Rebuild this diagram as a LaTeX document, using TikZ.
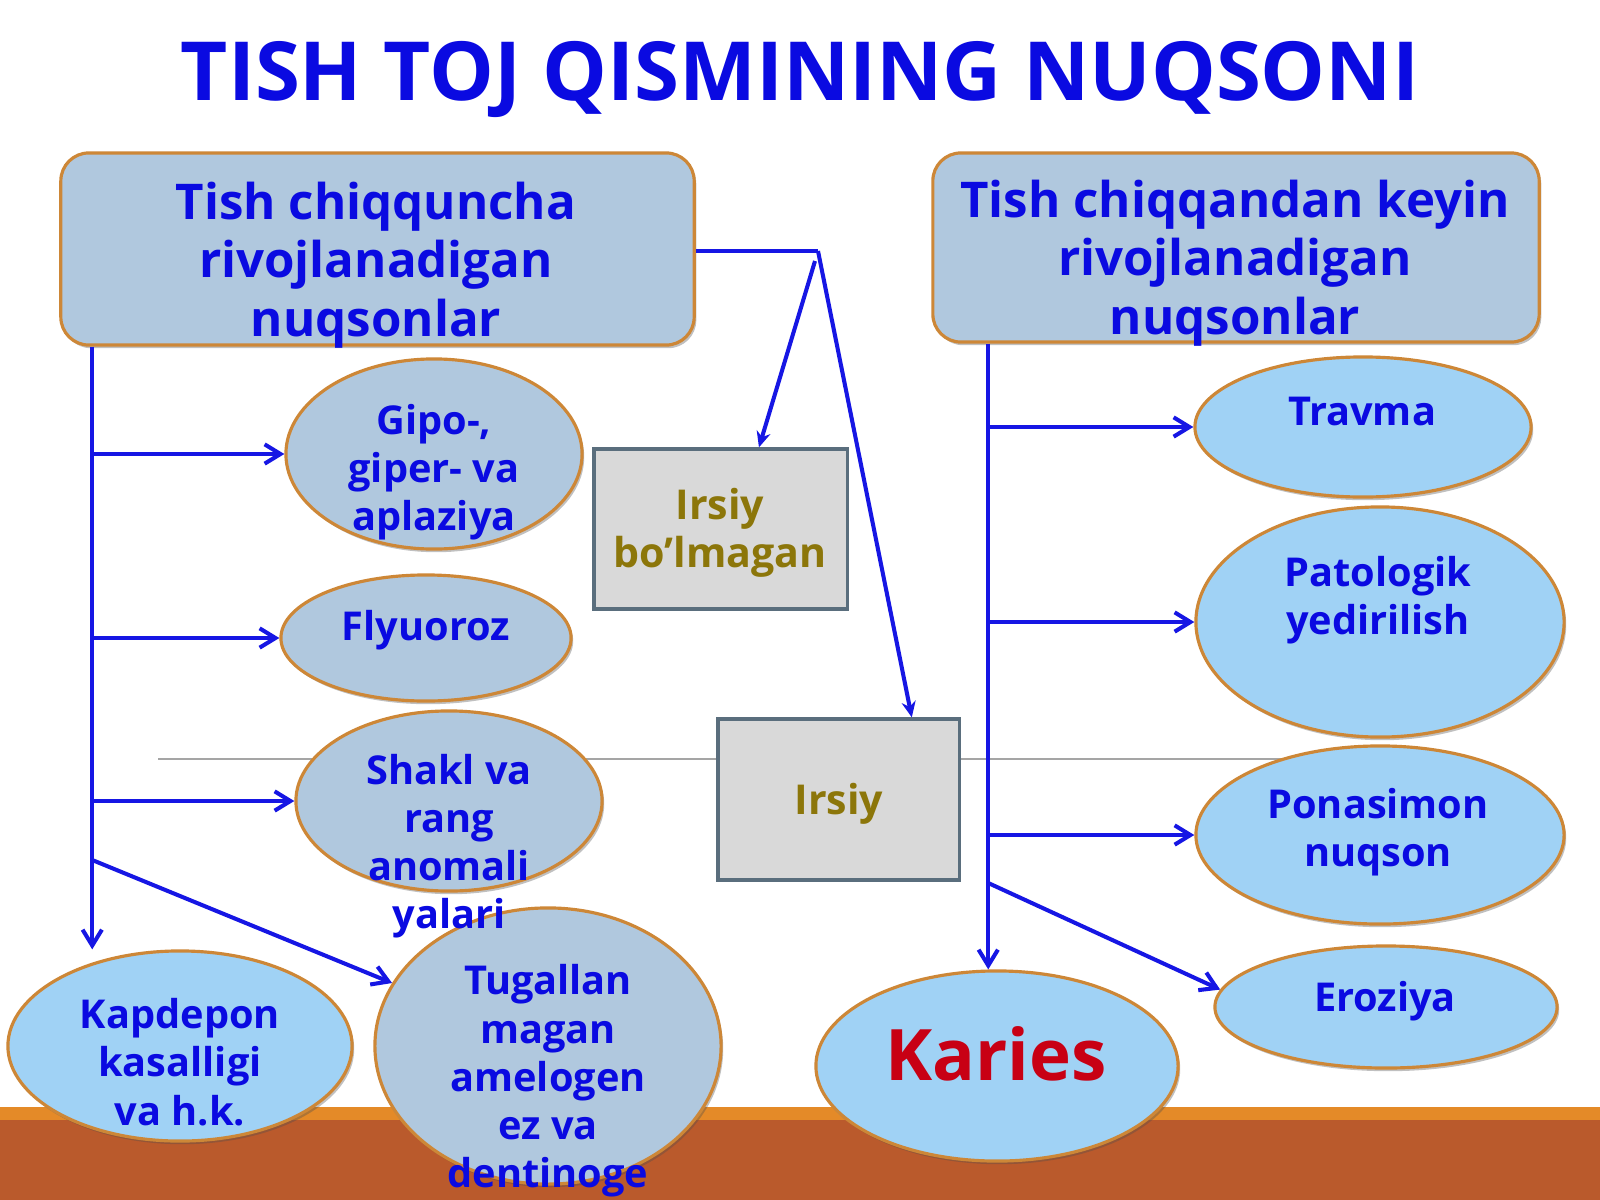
\documentclass[tikz,border=0pt]{standalone}
\usepackage{fontspec}
\setmainfont{Open Sans}
\usetikzlibrary{shapes.geometric,arrows.meta,shadows,calc}
\definecolor{tblue}{RGB}{10,10,225}
\definecolor{lblue}{RGB}{22,22,228}
\definecolor{greyblue}{RGB}{176,200,222}
\definecolor{skyblue}{RGB}{160,210,245}
\definecolor{eborder}{RGB}{205,135,55}
\definecolor{gbox}{RGB}{217,217,217}
\definecolor{gboxborder}{RGB}{90,110,125}
\definecolor{olivetxt}{RGB}{140,118,10}
\definecolor{kred}{RGB}{200,0,20}
\definecolor{bandorange}{RGB}{228,138,40}
\definecolor{bandbrown}{RGB}{186,90,44}
\definecolor{thinline}{RGB}{165,165,165}
\begin{document}
\begin{tikzpicture}[x=0.01cm,y=-0.01cm,
  shad/.style={drop shadow={shadow xshift=0.6pt,shadow yshift=-0.9pt,opacity=0.35,fill=black!70}},
  ell/.style={ellipse,draw=eborder,line width=0.9pt,inner sep=0pt,shad},
  ellg/.style={ell,fill=greyblue},
  ells/.style={ell,fill=skyblue},
  topbox/.style={rectangle,rounded corners=0.28cm,draw=eborder,line width=0.9pt,fill=greyblue,inner sep=0pt,shad},
  graybox/.style={rectangle,draw=gboxborder,line width=0.9pt,fill=gbox,inner sep=0pt},
  lbl/.style={align=center,text=tblue,inner sep=0pt,font=\bfseries\fontsize{11.3}{13.7}\selectfont},
  boxlbl/.style={lbl,font=\bfseries\fontsize{14}{16.6}\selectfont},
  graylbl/.style={lbl,text=olivetxt,font=\bfseries\fontsize{11.7}{13.8}\selectfont},
  conn/.style={draw=lblue,line width=1.15pt},
  branch/.style={conn,-{Straight Barb[length=4.5pt,width=5.5pt]}},
  tiparrow/.style={conn,-{Stealth[length=4.5pt,width=4pt]}}]
\useasboundingbox (0,0) rectangle (1600,1200);
\fill[white] (0,0) rectangle (1600,1200);
% bottom band
\fill[bandorange] (0,1107) rectangle (1600,1120);
\fill[bandbrown] (0,1120) rectangle (1600,1200);
% thin grey line
\draw[thinline,line width=0.5pt] (158,759) -- (1300,759);

% title
\node[anchor=base,text=tblue,inner sep=0pt,font=\bfseries\fontsize{23.2}{27}\selectfont] (title) at (800,100) {TISH TOJ QISMINING NUQSONI};

% top boxes
\node[topbox,minimum width=6.33cm,minimum height=1.92cm] (lbox) at (377.5,249) {};
\node[topbox,minimum width=6.06cm,minimum height=1.89cm] (rbox) at (1236,247.5) {};

% grey boxes
\node[graybox,minimum width=2.53cm,minimum height=1.60cm] (irb) at (720.5,529) {};
\node[graybox,minimum width=2.41cm,minimum height=1.61cm] (irs) at (838.5,799.5) {};

% ellipses left
\node[ellg,minimum width=2.96cm,minimum height=1.90cm] (gipo) at (434,454) {};
\node[ellg,minimum width=2.90cm,minimum height=1.26cm] (flyu) at (426,638) {};
\node[ellg,minimum width=3.06cm,minimum height=1.80cm] (shakl) at (449,801) {};
\node[ells,minimum width=3.44cm,minimum height=1.90cm] (kap) at (180,1046) {};
\node[ellg,minimum width=3.46cm,minimum height=2.76cm] (tug) at (548,1046) {};
% ellipses right
\node[ells,minimum width=3.36cm,minimum height=1.40cm] (travma) at (1363,427) {};
\node[ells,minimum width=3.68cm,minimum height=2.30cm] (pato) at (1380,622) {};
\node[ells,minimum width=3.68cm,minimum height=1.78cm] (pona) at (1380,835) {};
\node[ells,minimum width=3.42cm,minimum height=1.22cm] (eroz) at (1386,1007) {};
\node[ells,minimum width=3.62cm,minimum height=1.90cm] (karies) at (997,1066) {};

% left connectors
\path (lbox.south west) ++(33,0) coordinate (lt0);
\draw[branch] (lt0) -- (lt0 |- kap.north);
\draw[branch] (lt0 |- gipo.west) -- (gipo.west);
\draw[branch] (lt0 |- flyu.west) -- (flyu.west);
\draw[branch] (lt0 |- shakl.west) -- (shakl.west);
\draw[branch] (lt0 |- 0,860) -- (tug.158);

% right connectors
\path (rbox.south west) ++(57,0) coordinate (rt0);
\draw[branch] (rt0) -- (rt0 |- karies.north);
\draw[branch] (rt0 |- travma.west) -- (travma.west);
\draw[branch] (rt0 |- pato.west) -- (pato.west);
\draw[branch] (rt0 |- pona.west) -- (pona.west);
\draw[branch] (rt0 |- 0,883) -- (eroz.174);

% top connectors
\coordinate (jn) at (818,251);
\coordinate (jn2) at (815,261);
\draw[conn] (lbox.east |- jn) -- (jn);
\draw[tiparrow] (jn2) -- ($(irb.north)!0.3!(irb.north east)$);
\draw[tiparrow] (jn) -- ($(irs.north)!0.6!(irs.north east)$);

% texts
\node[boxlbl] (ltxt) at (376,265) {Tish chiqquncha\\rivojlanadigan\\nuqsonlar};
\node[boxlbl] (rtxt) at (1235,263) {Tish chiqqandan keyin\\rivojlanadigan\\nuqsonlar};
\node[graylbl] (irbtxt) at (720,533) {Irsiy\\bo’lmagan};
\node[graylbl] (irstxt) at (839,804) {Irsiy};
\node[lbl] (gipotxt) at (434,472) {Gipo-,\\giper- va\\aplaziya};
\node[lbl] (flyutxt) at (426,630) {Flyuoroz};
\node[lbl] (shakltxt) at (449,846) {Shakl va\\rang\\anomali\\yalari};
\node[lbl] (kaptxt) at (180,1062) {Kapdepon\\kasalligi\\va h.k.};
\node[lbl] (tugtxt) at (548,1081) {Tugallan\\magan\\amelogen\\ez va\\dentinoge};
\node[lbl] (travmatxt) at (1362,412) {Travma};
\node[lbl] (patotxt) at (1378,600) {Patologik\\yedirilish};
\node[lbl] (ponatxt) at (1378,832) {Ponasimon\\nuqson};
\node[lbl] (eroztxt) at (1385,1001) {Eroziya};
\node[lbl,text=kred,font=\bfseries\fontsize{20.2}{24}\selectfont] (kariestxt) at (996,1054) {Karies};
\end{tikzpicture}
\end{document}
